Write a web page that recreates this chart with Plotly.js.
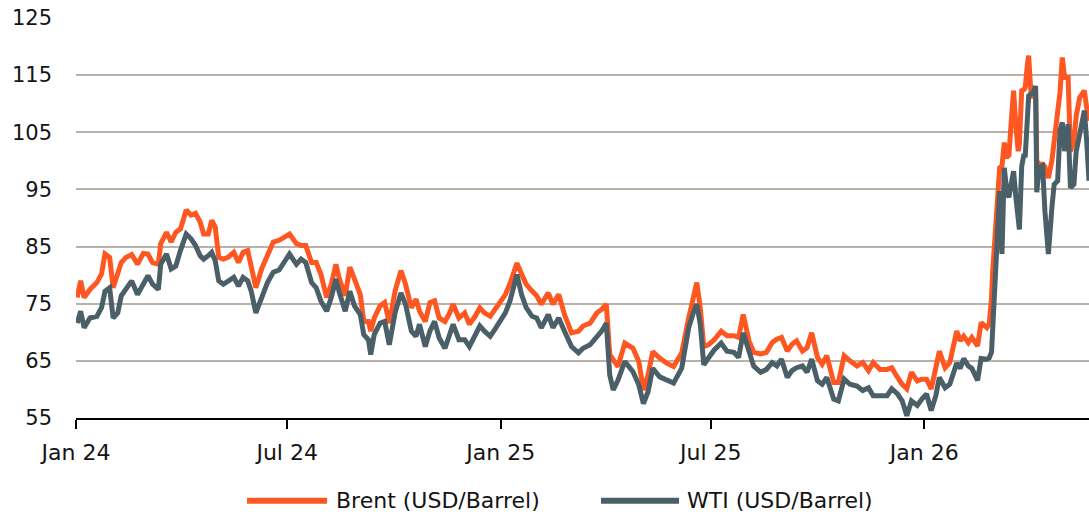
<!DOCTYPE html>
<html>
<head>
<meta charset="utf-8">
<script src="https://cdn.plot.ly/plotly-3.0.1.min.js"></script>
<style>
  html, body { margin: 0; padding: 0; background: #ffffff; }
  #chart { width: 1089px; height: 516px; }
</style>
</head>
<body>
<div id="chart"></div>
<script>
// ---- Data ----
const dates = [
  '2024-01-02','2024-01-05','2024-01-08','2024-01-13','2024-01-19','2024-01-23','2024-01-26','2024-01-30',
  '2024-02-02','2024-02-06','2024-02-09','2024-02-13','2024-02-18','2024-02-23','2024-02-28',
  '2024-03-03','2024-03-07','2024-03-12','2024-03-14','2024-03-19','2024-03-23','2024-03-27','2024-03-31',
  '2024-04-05','2024-04-09','2024-04-13','2024-04-17','2024-04-20','2024-04-24','2024-04-27','2024-04-30',
  '2024-05-03','2024-05-07','2024-05-11','2024-05-16','2024-05-20','2024-05-24','2024-05-28','2024-05-31',
  '2024-06-04','2024-06-09','2024-06-14','2024-06-19','2024-06-24',
  '2024-07-03','2024-07-09','2024-07-13','2024-07-17','2024-07-22','2024-07-26','2024-07-30',
  '2024-08-04','2024-08-08','2024-08-12','2024-08-15','2024-08-20','2024-08-24','2024-08-28',
  '2024-09-02','2024-09-05','2024-09-09','2024-09-11','2024-09-14','2024-09-19','2024-09-23','2024-09-27',
  '2024-10-02','2024-10-07','2024-10-11','2024-10-16','2024-10-20','2024-10-23','2024-10-28',
  '2024-11-01','2024-11-05','2024-11-09','2024-11-14','2024-11-18','2024-11-21','2024-11-26',
  '2024-12-01','2024-12-05','2024-12-10','2024-12-14','2024-12-18','2024-12-23','2024-12-27','2024-12-31',
  '2025-01-05','2025-01-09','2025-01-15','2025-01-19','2025-01-23','2025-01-28',
  '2025-02-01','2025-02-05','2025-02-11','2025-02-15','2025-02-20','2025-02-25',
  '2025-03-03','2025-03-09','2025-03-13','2025-03-19','2025-03-25','2025-03-29',
  '2025-04-02','2025-04-05','2025-04-08','2025-04-12','2025-04-18','2025-04-25','2025-04-30',
  '2025-05-04','2025-05-08','2025-05-12','2025-05-18','2025-05-24','2025-05-30',
  '2025-06-06','2025-06-12','2025-06-16','2025-06-19','2025-06-22','2025-06-25','2025-06-29',
  '2025-07-04','2025-07-10','2025-07-15','2025-07-21','2025-07-25','2025-07-29',
  '2025-08-03','2025-08-07','2025-08-13','2025-08-18','2025-08-23','2025-08-27','2025-08-31',
  '2025-09-05','2025-09-09','2025-09-13','2025-09-18','2025-09-22','2025-09-26',
  '2025-10-01','2025-10-05','2025-10-09','2025-10-15','2025-10-19','2025-10-24','2025-10-29',
  '2025-11-04','2025-11-09','2025-11-14','2025-11-18','2025-11-24','2025-11-30',
  '2025-12-04','2025-12-09','2025-12-13','2025-12-17','2025-12-21','2025-12-26','2025-12-30',
  '2026-01-03','2026-01-07','2026-01-11','2026-01-14','2026-01-19','2026-01-23','2026-01-29',
  '2026-02-01','2026-02-04','2026-02-08','2026-02-11','2026-02-16','2026-02-19','2026-02-24','2026-02-26','2026-02-28',
  '2026-03-01','2026-03-03','2026-03-05','2026-03-07','2026-03-09','2026-03-11','2026-03-13','2026-03-15','2026-03-17',
  '2026-03-19','2026-03-21','2026-03-23','2026-03-24','2026-03-26','2026-03-28','2026-03-29','2026-03-31',
  '2026-04-01','2026-04-03','2026-04-05','2026-04-07','2026-04-08','2026-04-10','2026-04-13','2026-04-15','2026-04-18',
  '2026-04-21','2026-04-23','2026-04-26','2026-04-28','2026-04-30',
  '2026-05-02','2026-05-05','2026-05-07','2026-05-10','2026-05-12','2026-05-15','2026-05-19','2026-05-21','2026-05-23'
];

const brent = [
  76.1, 79.0, 76.1, 77.5, 78.7, 80.2, 83.7, 83.1,
  77.8, 80.5, 82.2, 83.1, 83.6, 81.9, 83.8,
  83.7, 82.2, 81.9, 85.5, 87.5, 85.8, 87.5, 88.1,
  91.4, 90.5, 90.8, 89.3, 87.2, 87.2, 89.6, 88.4,
  83.1, 82.8, 83.1, 84.0, 82.2, 84.0, 84.3, 81.1,
  77.8, 81.1, 83.4, 85.8, 86.1,
  87.2, 85.5, 85.2, 85.2, 82.2, 82.2, 80.2,
  76.1, 78.4, 81.9, 79.3, 76.4, 81.4, 79.3,
  76.6, 71.9, 71.9, 70.2, 72.5, 74.6, 75.2, 71.6,
  77.2, 80.8, 78.4, 74.3, 75.8, 73.7, 71.9,
  75.2, 75.5, 72.5, 71.9, 73.4, 74.9, 72.5,
  73.4, 71.4, 72.8, 74.3, 73.4, 72.8, 74.0, 74.9,
  76.6, 78.5, 82.1, 80.2, 78.4, 77.2,
  76.4, 74.9, 76.9, 74.9, 76.6, 73.1,
  69.9, 70.2, 71.1, 71.6, 73.4, 74.0,
  74.9, 66.1, 65.2, 64.0, 68.1, 67.2, 64.9,
  59.9, 62.5, 66.6, 65.5, 64.6, 64.0,
  66.4, 72.5, 76.6, 78.7, 74.3, 67.5, 67.8,
  68.7, 70.2, 69.4, 69.4, 69.1, 73.1,
  68.5, 66.5, 66.2, 66.5, 68.2, 68.8, 69.1,
  66.7, 67.9, 68.5, 66.7, 67.3, 69.9,
  65.6, 64.4, 65.9, 61.2, 61.2, 65.9, 65.0,
  64.1, 64.7, 63.3, 64.7, 63.5, 63.5,
  63.8, 62.1, 60.9, 60.1, 63.0, 61.5, 61.8,
  61.8, 60.1, 63.8, 66.7, 63.8, 64.7, 70.2,
  68.5, 69.3, 68.2, 69.1, 67.6, 71.7, 70.8, 71.5, 76.0,
  80.7, 88.0, 94.7, 98.8, 99.1, 103.2, 100.6, 101.0, 107.0,
  112.3, 106.0, 101.7, 103.0, 112.3, 112.5, 112.8, 117.0,
  118.4, 111.7, 111.1, 112.0, 100.0, 99.4, 99.4, 99.0, 97.0,
  100.0, 104.0, 107.9, 112.0, 118.1,
  114.6, 114.6, 101.7, 103.5, 107.9, 111.1, 112.3, 109.3, 107.0
];

const wti = [
  71.6, 73.7, 70.8, 72.5, 72.8, 74.3, 77.2, 77.8,
  72.5, 73.4, 76.4, 77.5, 79.0, 76.6, 78.7,
  79.9, 78.4, 77.5, 81.9, 83.7, 81.1, 81.6, 84.3,
  87.2, 86.4, 85.2, 83.4, 82.8, 83.4, 84.0, 82.5,
  79.0, 78.4, 79.0, 79.6, 78.1, 79.6, 79.0, 77.2,
  73.4, 76.1, 78.7, 80.5, 80.9,
  83.7, 81.9, 82.8, 82.2, 78.7, 77.8, 75.5,
  73.7, 76.1, 79.3, 76.9, 73.7, 77.2, 74.6,
  73.1, 69.6, 68.7, 66.1, 69.6, 71.6, 71.9, 67.8,
  73.4, 76.9, 74.9, 70.2, 69.3, 71.4, 67.5,
  70.2, 71.9, 69.0, 67.2, 69.6, 71.4, 68.7,
  68.7, 67.5, 69.6, 71.1, 70.2, 69.3, 70.5, 71.9,
  73.4, 75.5, 80.1, 76.6, 74.3, 72.8,
  72.5, 70.8, 73.1, 70.8, 72.5, 70.2,
  67.5, 66.4, 67.2, 67.8, 69.3, 70.2,
  71.6, 62.5, 59.9, 61.6, 64.9, 63.1, 60.8,
  57.5, 59.6, 63.7, 62.2, 61.6, 61.1,
  63.7, 70.8, 73.4, 74.9, 71.4, 64.3, 65.5,
  66.9, 68.1, 66.7, 66.5, 65.6, 69.9,
  66.7, 64.1, 63.0, 63.5, 64.7, 64.1, 65.3,
  62.1, 63.3, 63.8, 64.1, 63.0, 65.3,
  61.5, 60.9, 62.1, 58.3, 58.0, 61.8, 60.9,
  60.6, 59.8, 60.3, 58.9, 58.9, 58.9,
  60.1, 59.2, 58.0, 55.4, 58.0, 57.2, 58.3,
  59.2, 56.3, 58.9, 62.1, 60.3, 60.9, 64.6,
  63.7, 65.4, 64.1, 63.7, 61.6, 65.4, 65.3, 65.5, 66.5,
  70.2, 76.0, 85.0, 94.7, 83.7, 98.8, 95.0, 93.6, 96.0,
  98.2, 93.6, 90.0, 88.0, 99.0, 101.2, 100.6, 106.0,
  111.4, 111.7, 112.0, 113.1, 94.5, 98.8, 99.1, 91.2, 83.7,
  91.8, 95.9, 96.5, 105.3, 106.7,
  101.7, 106.4, 95.3, 95.9, 101.7, 104.7, 108.8, 103.5, 96.5
];

const seriesNames = ['Brent (USD/Barrel)', 'WTI (USD/Barrel)'];
const seriesColors = ['#FF5722', '#4A5F67'];
const xRange = ['2024-01-01', '2026-05-23'];
const yRange = [55, 125];

// ---- Chart ----
const FONT = '"DejaVu Sans", Verdana, sans-serif';
const TXT = '#141414';

const traces = [
  { x: dates, y: brent, name: seriesNames[0], type: 'scatter', mode: 'lines',
    line: { color: seriesColors[0], width: 5, shape: 'linear' } },
  { x: dates, y: wti, name: seriesNames[1], type: 'scatter', mode: 'lines',
    line: { color: seriesColors[1], width: 5, shape: 'linear' } }
];

// custom legend (long swatches as in the reference)
const legY = -0.207;
const legendItems = [
  { x0: 0.1688, x1: 0.2478, tx: 0.2547 },
  { x0: 0.5183, x1: 0.5953, tx: 0.6012 }
];
const shapes = legendItems.map((it, i) => ({
  type: 'line', xref: 'paper', yref: 'paper',
  x0: it.x0, x1: it.x1, y0: legY, y1: legY,
  line: { color: seriesColors[i], width: 6 }
}));
const annotations = legendItems.map((it, i) => ({
  xref: 'paper', yref: 'paper', x: it.tx, y: legY,
  xanchor: 'left', yanchor: 'middle', showarrow: false,
  text: seriesNames[i], font: { family: FONT, size: 22, color: TXT }
}));

const layout = {
  width: 1089, height: 516,
  margin: { l: 76, r: 0, t: 18, b: 98, pad: 0 },
  paper_bgcolor: '#ffffff', plot_bgcolor: '#ffffff',
  font: { family: FONT, size: 22, color: TXT },
  showlegend: false,
  xaxis: {
    type: 'date', range: xRange,
    tick0: '2024-01-01', dtick: 'M6', tickformat: '%b %y',
    showgrid: false, zeroline: false,
    showline: true, linecolor: '#000000', linewidth: 2,
    ticks: 'outside', ticklen: 9, tickwidth: 2, tickcolor: '#000000',
    ticklabelstandoff: 5,
    tickfont: { family: FONT, size: 22, color: TXT }
  },
  yaxis: {
    range: yRange, tick0: 55, dtick: 10,
    showgrid: true, gridcolor: '#b8b2a9', gridwidth: 2,
    zeroline: false, showline: false, ticks: '',
    ticklabelstandoff: 23,
    tickfont: { family: FONT, size: 21, color: TXT }
  },
  shapes: shapes,
  annotations: annotations
};

Plotly.newPlot('chart', traces, layout, { staticPlot: true, displayModeBar: false });
</script>
</body>
</html>
